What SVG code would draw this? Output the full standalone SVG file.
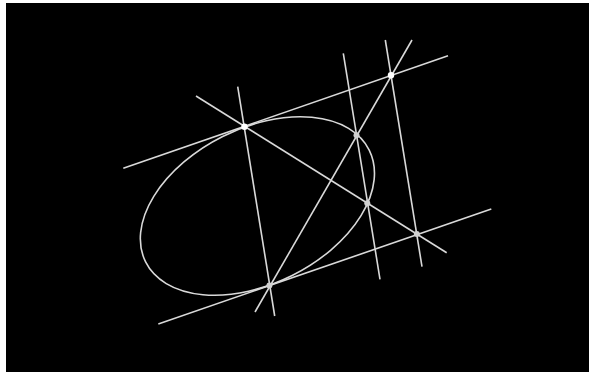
<svg xmlns="http://www.w3.org/2000/svg" width="589" height="372" viewBox="0 0 589 372">
<style>
.ln{stroke:#d9d9d9;stroke-width:1.6;fill:none;stroke-linecap:butt}
.pt{fill:#d0d0d0}
.pw{fill:#ffffff}
</style>
<rect x="0" y="0" width="589" height="372" fill="#ffffff"/>
<rect x="6" y="3" width="583" height="369" fill="#000000"/>
<g id="ellipse">
<ellipse class="ln" cx="257.4" cy="206" rx="125" ry="77.7" transform="rotate(-26.57 257.4 206)"/>
</g>
<g id="connectors">
<line class="ln" x1="123.3" y1="168.3" x2="448" y2="55.7"/>
<line class="ln" x1="158.3" y1="324" x2="491.3" y2="209"/>
<line class="ln" x1="237.7" y1="86.7" x2="274.7" y2="316"/>
<line class="ln" x1="343.3" y1="53.3" x2="380" y2="279.3"/>
<line class="ln" x1="385.3" y1="40" x2="422" y2="266.7"/>
<line class="ln" x1="196" y1="96" x2="446.7" y2="252.7"/>
<line class="ln" x1="255" y1="312" x2="412" y2="40"/>
</g>
<g id="p1"><circle class="pw" cx="244.5" cy="126.7" r="3.2"/></g>
<g id="p2"><circle class="pw" cx="391" cy="75.2" r="3.2"/></g>
<g id="p3"><circle class="pt" cx="356.5" cy="135.2" r="3"/></g>
<g id="p4"><circle class="pt" cx="367.3" cy="203.3" r="3"/></g>
<g id="p5"><circle class="pt" cx="416.8" cy="234.1" r="3"/></g>
<g id="p6"><circle class="pt" cx="269.4" cy="285.6" r="3"/></g>
</svg>
